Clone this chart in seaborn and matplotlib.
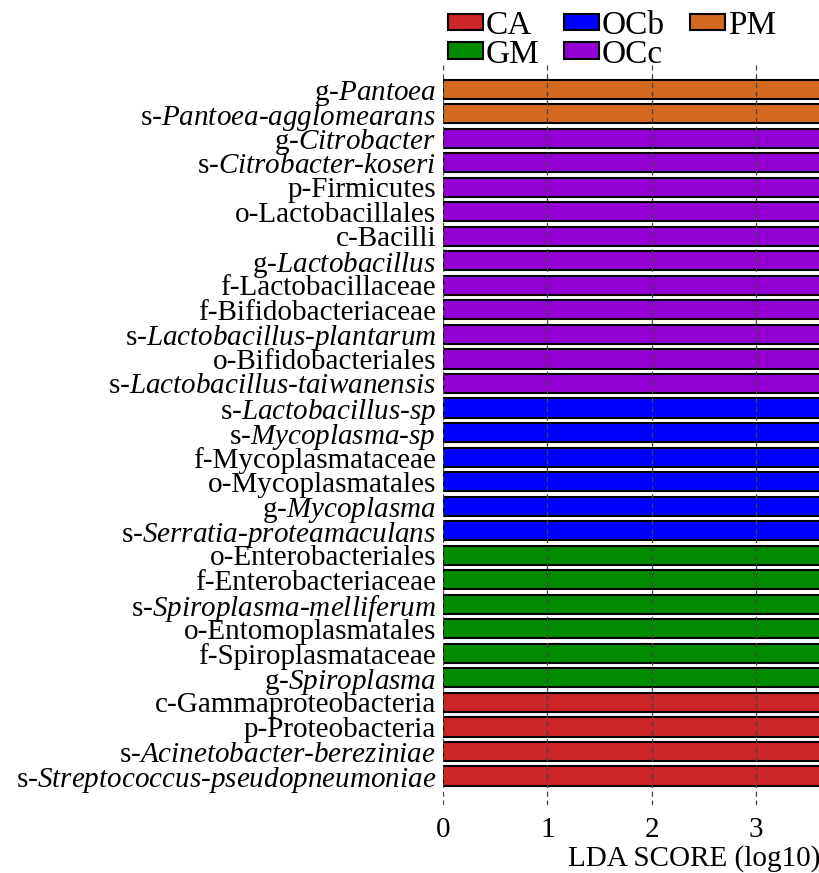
import matplotlib
matplotlib.use("Agg")
import matplotlib.pyplot as plt
import seaborn as sns
import pandas as pd
from matplotlib.patches import Patch

# Features, top to bottom
features = [
    "g-$\\mathit{Pantoea}$",
    "s-$\\mathit{Pantoea}$-$\\mathit{agglomearans}$",
    "g-$\\mathit{Citrobacter}$",
    "s-$\\mathit{Citrobacter}$-$\\mathit{koseri}$",
    "p-Firmicutes",
    "o-Lactobacillales",
    "c-Bacilli",
    "g-$\\mathit{Lactobacillus}$",
    "f-Lactobacillaceae",
    "f-Bifidobacteriaceae",
    "s-$\\mathit{Lactobacillus}$-$\\mathit{plantarum}$",
    "o-Bifidobacteriales",
    "s-$\\mathit{Lactobacillus}$-$\\mathit{taiwanensis}$",
    "s-$\\mathit{Lactobacillus}$-$\\mathit{sp}$",
    "s-$\\mathit{Mycoplasma}$-$\\mathit{sp}$",
    "f-Mycoplasmataceae",
    "o-Mycoplasmatales",
    "g-$\\mathit{Mycoplasma}$",
    "s-$\\mathit{Serratia}$-$\\mathit{proteamaculans}$",
    "o-Enterobacteriales",
    "f-Enterobacteriaceae",
    "s-$\\mathit{Spiroplasma}$-$\\mathit{melliferum}$",
    "o-Entomoplasmatales",
    "f-Spiroplasmataceae",
    "g-$\\mathit{Spiroplasma}$",
    "c-Gammaproteobacteria",
    "p-Proteobacteria",
    "s-$\\mathit{Acinetobacter}$-$\\mathit{bereziniae}$",
    "s-$\\mathit{Streptococcus}$-$\\mathit{pseudopneumoniae}$",
]
groups = (["PM"] * 2 + ["OCc"] * 11 + ["OCb"] * 6 + ["GM"] * 6 + ["CA"] * 4)
# LDA scores (bars run past the visible axis, values estimated)
lda = [4.52, 4.48, 4.95, 4.90, 4.88, 4.87, 4.86, 4.80, 4.79, 4.70, 4.66,
       4.62, 4.55, 4.91, 4.85, 4.84, 4.83, 4.82, 4.60, 5.10, 5.09, 5.02,
       4.98, 4.97, 4.96, 4.90, 4.88, 4.45, 4.30]

group_order = ["CA", "GM", "OCb", "OCc", "PM"]
palette = {"CA": "#CD2626", "GM": "#008B00", "OCb": "#0000FF",
           "OCc": "#9400D3", "PM": "#D2691E"}

df = pd.DataFrame({"feature": features, "group": groups, "lda": lda})

plt.rcParams["font.family"] = ["Liberation Serif", "DejaVu Serif"]
plt.rcParams["mathtext.fontset"] = "custom"
plt.rcParams["mathtext.rm"] = "Liberation Serif"
plt.rcParams["mathtext.it"] = "Liberation Serif:italic"

fig = plt.figure(figsize=(8.2, 8.73), dpi=100)
ax = fig.add_axes([0.5402, 0.0779, 0.4598, 0.8476])

sns.barplot(data=df, x="lda", y="feature", hue="group", order=features,
            hue_order=group_order, palette=palette, dodge=False, width=0.78,
            edgecolor="black", linewidth=1.5, saturation=1, legend=False, ax=ax)

ax.set_xlim(0, 3.615)
ax.set_ylim(29.18, -0.98)
ax.set_xticks([0, 1, 2, 3])
ax.grid(axis="x", linestyle=(0, (4, 3)), color="#444444", linewidth=0.9)
ax.set_axisbelow(False)
for s in ax.spines.values():
    s.set_visible(False)
ax.tick_params(axis="both", length=0, labelsize=21)
ax.tick_params(axis="x", pad=9)
ax.tick_params(axis="y", pad=5)
ax.set_ylabel("")
ax.set_xlabel("LDA SCORE (log10)", fontsize=21, loc="right", labelpad=1)

handles = [Patch(facecolor=palette[g], edgecolor="black", linewidth=1.5, label=g)
           for g in group_order]
fig.legend(handles=handles, ncol=3, loc="upper left", bbox_to_anchor=(0.546, 0.988),
           frameon=False, fontsize=24, handlelength=1.05, handleheight=0.4,
           handletextpad=0.08, columnspacing=0.75, labelspacing=-0.05,
           borderaxespad=0, borderpad=0)

fig.savefig("out.png", dpi=100)
